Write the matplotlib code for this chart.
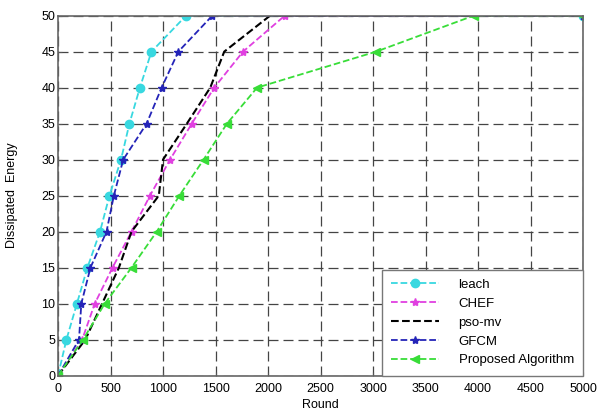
"""Dissipated energy vs round for five clustering protocols."""
import matplotlib.pyplot as plt

plt.rcParams['font.family'] = ['Liberation Sans', 'DejaVu Sans']

energy = [0, 5, 10, 15, 20, 25, 30, 35, 40, 45, 50, 50]

leach_x = [0, 80, 180, 280, 400, 490, 600, 680, 780, 890, 1220, 5000]
chef_x = [0, 230, 350, 519, 700, 876, 1067, 1274, 1488, 1762, 2160, 5000]
pso_x = [0, 260, 420, 580, 700, 960, 1000, 1227, 1450, 1583, 2020, 5000]
gfcm_x = [0, 200, 222, 309, 462, 532, 621, 844, 987, 1146, 1470, 5000]
prop_x = [0, 238, 445, 700, 940, 1156, 1386, 1609, 1896, 3030, 3960, 5000]

fig = plt.figure(figsize=(5.98, 4.11), dpi=100)
ax = fig.add_axes([0.097, 0.086, 0.878, 0.876])

ax.plot(leach_x, energy, '--o', color='#38d8e0', lw=1.3, ms=6, label='leach')
ax.plot(chef_x, energy, '--*', color='#e040e0', lw=1.3, ms=6, label='CHEF')
ax.plot(pso_x, energy, '--', color='black', lw=1.5, label='pso-mv')
ax.plot(gfcm_x, energy, '--*', color='#2424b8', lw=1.3, ms=6, label='GFCM')
ax.plot(prop_x, energy, '--<', color='#38dd38', lw=1.3, ms=6,
        label='Proposed Algorithm')

ax.set_xlim(0, 5000)
ax.set_ylim(0, 50)
ax.set_xticks(range(0, 5001, 500))
ax.set_yticks(range(0, 51, 5))
ax.tick_params(direction='in', length=3, labelsize=9, color='#555555')
ax.tick_params(axis='x', pad=5)
ax.tick_params(axis='y', pad=2)
ax.grid(True, color='#444444', linestyle=(0, (8, 4)), linewidth=0.9)
for s in ax.spines.values():
    s.set_color('#666666')
    s.set_linewidth(1.2)

ax.set_xlabel('Round', fontsize=9, labelpad=3)
ax.set_ylabel('Dissipated  Energy', fontsize=9, labelpad=17)

leg = ax.legend(loc='lower right', borderaxespad=0, fontsize=9.5,
                fancybox=False, framealpha=1, edgecolor='#777777',
                handlelength=3.6, handletextpad=1.5, labelspacing=0.5,
                borderpad=0.7)
leg.get_frame().set_linewidth(1.0)

fig.savefig('out.png', dpi=100)
